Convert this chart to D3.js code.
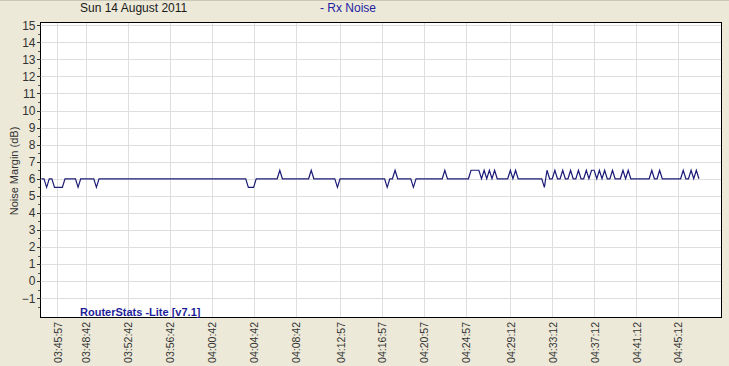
<!DOCTYPE html>
<html>
<head>
<meta charset="utf-8">
<script src="https://cdn.jsdelivr.net/npm/d3@7"></script>
<style>
  html, body { margin: 0; padding: 0; background: #ECE9D8; }
  svg { display: block; }
  text { font-family: Arial, "Liberation Sans", sans-serif; }
</style>
</head>
<body>
<svg id="chart" width="729" height="366"></svg>
<script>
// ---------------- data ----------------
const chartDate = "Sun 14 August 2011";
const seriesName = "- Rx Noise";
const yTitle = "Noise Margin (dB)";
const watermark = "RouterStats -Lite [v7.1]";

const firstSampleTime = "03:44:27";
const sampleStepSeconds = 15;

const xTickLabels = ["03:45:57","03:48:42","03:52:42","03:56:42","04:00:42","04:04:42","04:08:42",
  "04:12:57","04:16:57","04:20:57","04:24:57","04:29:12","04:33:12","04:37:12","04:41:12","04:45:12"];

const yTickValues = [-1,0,1,2,3,4,5,6,7,8,9,10,11,12,13,14,15];

const noise = [
  6,6,5.5,6,6,5.5,5.5,5.5,5.5,6, 6,6,6,6,5.5,6,6,6,6,6,
  6,5.5,6,6,6,6,6,6,6,6, 6,6,6,6,6,6,6,6,6,6,
  6,6,6,6,6,6,6,6,6,6, 6,6,6,6,6,6,6,6,6,6,
  6,6,6,6,6,6,6,6,6,6, 6,6,6,6,6,6,6,6,6,5.5,
  5.5,5.5,6,6,6,6,6,6,6,6, 6,6.5,6,6,6,6,6,6,6,6,
  6,6,6,6.5,6,6,6,6,6,6, 6,6,6,5.5,6,6,6,6,6,6,
  6,6,6,6,6,6,6,6,6,6, 6,6,5.5,6,6,6.5,6,6,6,6,
  6,6,5.5,6,6,6,6,6,6,6, 6,6,6,6,6.5,6,6,6,6,6,
  6,6,6,6,6.5,6.5,6.5,6.5,6,6.5, 6,6.5,6,6.5,6,6,6,6,6,6.5,
  6,6.5,6,6,6,6,6,6,6,6, 6,6,5.5,6.5,6,6,6.5,6,6,6.5,
  6,6,6.5,6,6,6.5,6,6,6.5,6, 6.5,6.5,6,6.5,6,6.5,6,6,6.5,6,
  6,6,6.5,6,6.5,6,6,6,6,6, 6,6,6,6.5,6,6,6.5,6,6,6,
  6,6,6,6,6,6.5,6,6,6.5,6, 6.5,6
];

// ---------------- helpers ----------------
const toSec = s => { const p = s.split(":").map(Number); return p[0]*3600 + p[1]*60 + p[2]; };
const pad = n => String(n).padStart(2, "0");
const fmt = t => pad(Math.floor(t/3600)) + ":" + pad(Math.floor(t%3600/60)) + ":" + pad(t%60);

const t0 = toSec(firstSampleTime);
const samples = noise.map((v, i) => ({ t: t0 + i * sampleStepSeconds, v }));
const tickSecs = xTickLabels.map(toSec);

// ---------------- layout ----------------
const W = 729, H = 366;
const plot = { left: 40, right: 722, top: 22, bottom: 318 };

const svg = d3.select("#chart");
svg.append("rect").attr("width", W).attr("height", H).attr("fill", "#ECE9D8");
svg.append("rect").attr("x", 0).attr("y", 0).attr("width", W).attr("height", 1).attr("fill", "#cbc7b6");

const tFirst = samples[0].t, tLast = samples[samples.length - 1].t;
const x = d3.scaleLinear()
  .domain([tFirst - 8, tLast + 132])
  .range([plot.left, plot.right]);

const y = d3.scaleLinear()
  .domain([-2.16, 15.19])
  .range([plot.bottom, plot.top]);

// plot background
svg.append("rect")
  .attr("x", plot.left).attr("y", plot.top)
  .attr("width", plot.right - plot.left).attr("height", plot.bottom - plot.top)
  .attr("fill", "#ffffff");

// gridlines
const grid = svg.append("g").attr("stroke", "#dedede").attr("stroke-width", 1).attr("shape-rendering", "crispEdges");
grid.selectAll("line.h").data(yTickValues).enter().append("line")
  .attr("x1", plot.left).attr("x2", plot.right)
  .attr("y1", d => Math.round(y(d)) + 0.5).attr("y2", d => Math.round(y(d)) + 0.5);
grid.selectAll("line.v").data(tickSecs).enter().append("line")
  .attr("y1", plot.top).attr("y2", plot.bottom)
  .attr("x1", d => Math.round(x(d)) + 0.5).attr("x2", d => Math.round(x(d)) + 0.5);

// series line
const clipId = "plotclip";
svg.append("clipPath").attr("id", clipId).append("rect")
  .attr("x", plot.left).attr("y", plot.top)
  .attr("width", plot.right - plot.left).attr("height", plot.bottom - plot.top);

svg.append("path")
  .datum(samples)
  .attr("clip-path", `url(#${clipId})`)
  .attr("fill", "none")
  .attr("stroke", "#1c1c78")
  .attr("stroke-width", 1.2)
  .attr("stroke-linejoin", "miter")
  .attr("d", d3.line().x(d => x(d.t)).y(d => y(d.v)));

// frame
svg.append("rect")
  .attr("x", plot.left + 0.5).attr("y", plot.top + 0.5)
  .attr("width", plot.right - plot.left - 1).attr("height", plot.bottom - plot.top - 1)
  .attr("fill", "none").attr("stroke", "#000").attr("stroke-width", 1)
  .attr("shape-rendering", "crispEdges");

// y axis
const yAxis = d3.axisLeft(y).tickValues(yTickValues).tickSize(4).tickPadding(1).tickFormat(d3.format("d"));
const gy = svg.append("g").attr("transform", `translate(${plot.left + 0.5},0)`).call(yAxis);
gy.select(".domain").remove();
gy.selectAll(".tick line").attr("stroke", "#333").attr("shape-rendering", "crispEdges");
gy.selectAll(".tick text").attr("font-size", 12).attr("fill", "#333")
  .attr("font-family", "Arial, 'Liberation Sans', sans-serif");
// minor y ticks at halves
const minor = d3.range(-1.5, 15.01, 1);
svg.append("g").selectAll("line").data(minor).enter().append("line")
  .attr("x1", plot.left - 2).attr("x2", plot.left)
  .attr("y1", d => Math.round(y(d)) + 0.5).attr("y2", d => Math.round(y(d)) + 0.5)
  .attr("stroke", "#555").attr("shape-rendering", "crispEdges");

// x axis (rotated labels)
const xAxis = d3.axisBottom(x).tickValues(tickSecs).tickSize(0).tickFormat((d, i) => xTickLabels[i]);
const gx = svg.append("g").attr("transform", `translate(0,${plot.bottom})`).call(xAxis);
gx.select(".domain").remove();
gx.selectAll(".tick text")
  .attr("font-size", 10.5).attr("fill", "#333")
  .attr("font-family", "Arial, 'Liberation Sans', sans-serif")
  .attr("text-anchor", "end")
  .attr("dy", null).attr("y", null)
  .attr("transform", "translate(4,4) rotate(-90)");

// texts
svg.append("text").attr("x", 80).attr("y", 12).attr("font-size", 12).attr("fill", "#1a1a1a").text(chartDate);
svg.append("text").attr("x", 320).attr("y", 12).attr("font-size", 12).attr("fill", "#2222a0").text(seriesName);
svg.append("text")
  .attr("transform", `translate(18,${(plot.top + plot.bottom) / 2 + 1}) rotate(-90)`)
  .attr("text-anchor", "middle").attr("font-size", 11).attr("fill", "#333").text(yTitle);
svg.append("text").attr("x", 80).attr("y", 316).attr("font-size", 11).attr("font-weight", "bold")
  .attr("fill", "#1e1e9a").text(watermark);
</script>
</body>
</html>
